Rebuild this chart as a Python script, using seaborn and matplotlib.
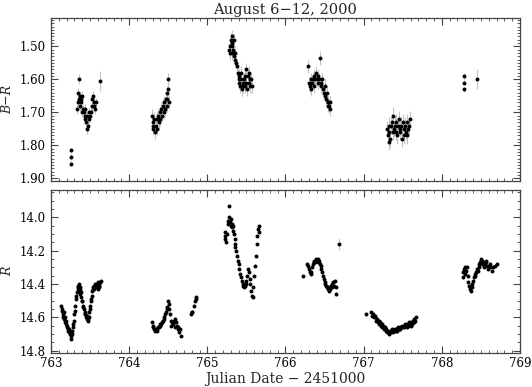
import numpy as np
import pandas as pd
import seaborn as sns
import matplotlib.pyplot as plt
from matplotlib.ticker import MultipleLocator

# ---- B-R colour index, one list of (JD-2451000, B-R) per night ----
br_night1 = [(763.25, 1.815), (763.255, 1.835), (763.26, 1.855)]
br_night1b = [(763.33, 1.69), (763.34, 1.67), (763.35, 1.64), (763.355, 1.60), (763.36, 1.66),
              (763.37, 1.65), (763.37, 1.68), (763.38, 1.66), (763.39, 1.67), (763.40, 1.65),
              (763.40, 1.70), (763.41, 1.69), (763.42, 1.70), (763.43, 1.71), (763.44, 1.72),
              (763.44, 1.69), (763.45, 1.73), (763.46, 1.75), (763.46, 1.71), (763.47, 1.74),
              (763.48, 1.70), (763.49, 1.72), (763.50, 1.71), (763.51, 1.70), (763.52, 1.68),
              (763.53, 1.66), (763.54, 1.65), (763.545, 1.67), (763.55, 1.68), (763.56, 1.69),
              (763.57, 1.67)]
br_night2 = [(764.29, 1.71), (764.30, 1.74), (764.31, 1.73), (764.31, 1.75), (764.32, 1.72),
             (764.33, 1.76), (764.34, 1.74), (764.35, 1.72), (764.36, 1.75), (764.37, 1.71),
             (764.38, 1.73), (764.39, 1.70), (764.40, 1.72), (764.41, 1.69), (764.42, 1.71),
             (764.43, 1.68), (764.44, 1.70), (764.45, 1.67), (764.46, 1.69), (764.47, 1.66),
             (764.48, 1.68), (764.49, 1.64), (764.49, 1.66), (764.50, 1.63), (764.50, 1.60),
             (764.51, 1.67)]
br_night3 = [(765.28, 1.51), (765.29, 1.52), (765.29, 1.50), (765.30, 1.48), (765.31, 1.47),
             (765.31, 1.50), (765.32, 1.49), (765.32, 1.52), (765.33, 1.51), (765.34, 1.48),
             (765.34, 1.53), (765.35, 1.52), (765.36, 1.54), (765.37, 1.55), (765.38, 1.56),
             (765.39, 1.58), (765.40, 1.59), (765.40, 1.61), (765.41, 1.60), (765.42, 1.62),
             (765.43, 1.60), (765.43, 1.58), (765.44, 1.63), (765.45, 1.61), (765.46, 1.62),
             (765.47, 1.60), (765.48, 1.59), (765.48, 1.62), (765.49, 1.57), (765.50, 1.61),
             (765.51, 1.63), (765.52, 1.59), (765.53, 1.58), (765.53, 1.61), (765.54, 1.60),
             (765.55, 1.62), (765.56, 1.60), (765.57, 1.62)]
br_night4 = [(766.29, 1.56), (766.30, 1.61), (766.31, 1.62), (766.32, 1.60), (766.33, 1.63),
             (766.34, 1.61), (766.35, 1.60), (766.36, 1.62), (766.37, 1.59), (766.38, 1.60),
             (766.39, 1.58), (766.40, 1.60), (766.41, 1.59), (766.42, 1.61), (766.43, 1.60),
             (766.44, 1.535), (766.45, 1.61), (766.46, 1.62), (766.47, 1.60), (766.48, 1.63),
             (766.49, 1.64), (766.50, 1.62), (766.51, 1.65), (766.52, 1.66), (766.53, 1.64),
             (766.54, 1.67), (766.55, 1.68), (766.55, 1.67), (766.56, 1.68), (766.57, 1.67),
             (766.57, 1.69)]
br_night5 = [(767.30, 1.75), (767.31, 1.77), (767.32, 1.74), (767.32, 1.79), (767.33, 1.76),
             (767.34, 1.78), (767.35, 1.74), (767.36, 1.73), (767.37, 1.76), (767.38, 1.71),
             (767.39, 1.75), (767.40, 1.74), (767.41, 1.76), (767.42, 1.73), (767.43, 1.77),
             (767.44, 1.74), (767.45, 1.72), (767.46, 1.75), (767.47, 1.76), (767.48, 1.74),
             (767.49, 1.78), (767.50, 1.73), (767.51, 1.75), (767.52, 1.77), (767.53, 1.74),
             (767.54, 1.76), (767.55, 1.73), (767.56, 1.77), (767.57, 1.75), (767.58, 1.74),
             (767.59, 1.72)]
br_night6 = [(768.28, 1.59), (768.285, 1.61), (768.28, 1.63)]
br_single = [(763.63, 1.605), (768.45, 1.60)]

br_nights = [br_night1, br_night1b, br_night2, br_night3, br_night4, br_night5, br_night6, br_single]
br_errs = [0.008, 0.015, 0.02, 0.02, 0.02, 0.025, 0.008, 0.03]

# ---- R magnitude ----
r_night1 = [(763.13, 14.53), (763.14, 14.56), (763.15, 14.58), (763.16, 14.57), (763.17, 14.61),
            (763.18, 14.63), (763.19, 14.62), (763.20, 14.66), (763.21, 14.65), (763.22, 14.68),
            (763.23, 14.67), (763.24, 14.70), (763.25, 14.69), (763.26, 14.73), (763.27, 14.68),
            (763.28, 14.66), (763.29, 14.62), (763.30, 14.58), (763.31, 14.53), (763.32, 14.49),
            (763.33, 14.45), (763.34, 14.43), (763.35, 14.41), (763.36, 14.40), (763.37, 14.43),
            (763.38, 14.45), (763.39, 14.48), (763.40, 14.50), (763.41, 14.53), (763.42, 14.55),
            (763.43, 14.57), (763.44, 14.58), (763.45, 14.60), (763.46, 14.61), (763.47, 14.62),
            (763.48, 14.60), (763.49, 14.57), (763.50, 14.53), (763.51, 14.50), (763.52, 14.47),
            (763.53, 14.44), (763.54, 14.42), (763.55, 14.41), (763.56, 14.40), (763.57, 14.42),
            (763.58, 14.40), (763.59, 14.41), (763.60, 14.43), (763.61, 14.40), (763.62, 14.42),
            (763.63, 14.39), (763.64, 14.38),
            (763.135, 14.55), (763.155, 14.60), (763.175, 14.60), (763.195, 14.64), (763.215, 14.67),
            (763.235, 14.69), (763.255, 14.71), (763.265, 14.70), (763.285, 14.64), (763.305, 14.56),
            (763.325, 14.47), (763.345, 14.42), (763.355, 14.44), (763.365, 14.42), (763.375, 14.46),
            (763.395, 14.50), (763.415, 14.54), (763.435, 14.58), (763.455, 14.59), (763.475, 14.61),
            (763.495, 14.55), (763.515, 14.49), (763.535, 14.43), (763.555, 14.43), (763.575, 14.41),
            (763.595, 14.39), (763.615, 14.41)]
r_night2 = [(764.29, 14.63), (764.30, 14.65), (764.31, 14.66), (764.32, 14.67), (764.33, 14.68),
            (764.34, 14.67), (764.35, 14.68), (764.36, 14.67), (764.37, 14.66), (764.38, 14.66),
            (764.39, 14.65), (764.40, 14.64), (764.41, 14.64), (764.42, 14.63), (764.43, 14.62),
            (764.44, 14.61), (764.45, 14.60), (764.46, 14.58), (764.47, 14.57), (764.48, 14.55),
            (764.49, 14.54), (764.50, 14.50), (764.505, 14.52), (764.51, 14.55), (764.52, 14.58),
            (764.53, 14.62), (764.54, 14.65), (764.55, 14.63), (764.56, 14.64), (764.57, 14.62),
            (764.58, 14.66), (764.59, 14.61), (764.60, 14.63), (764.61, 14.65), (764.62, 14.67),
            (764.63, 14.66), (764.64, 14.69), (764.65, 14.67), (764.66, 14.71),
            (764.795, 14.58), (764.80, 14.57), (764.81, 14.57), (764.83, 14.53), (764.84, 14.50),
            (764.85, 14.48), (764.86, 14.49)]
r_night3 = [(765.22, 14.09), (765.22, 14.13), (765.23, 14.11), (765.24, 14.15), (765.25, 14.10),
            (765.26, 14.04), (765.27, 14.02), (765.28, 13.93), (765.28, 14.00), (765.29, 14.03),
            (765.30, 14.05), (765.30, 14.01), (765.31, 14.06), (765.32, 14.04), (765.33, 14.08),
            (765.33, 14.05), (765.34, 14.10), (765.35, 14.13), (765.35, 14.16), (765.36, 14.18),
            (765.37, 14.20), (765.38, 14.23), (765.39, 14.26), (765.40, 14.28), (765.41, 14.31),
            (765.42, 14.34), (765.43, 14.36), (765.44, 14.38), (765.45, 14.40), (765.46, 14.41),
            (765.47, 14.42), (765.48, 14.41), (765.49, 14.40), (765.50, 14.38), (765.51, 14.35),
            (765.52, 14.31), (765.53, 14.33), (765.54, 14.37), (765.55, 14.40), (765.56, 14.44),
            (765.57, 14.47), (765.58, 14.48), (765.59, 14.42), (765.60, 14.35), (765.61, 14.29),
            (765.62, 14.23), (765.63, 14.16), (765.64, 14.11), (765.65, 14.07), (765.66, 14.05),
            (765.66, 14.09)]
r_night4 = [(766.22, 14.35), (766.28, 14.28), (766.29, 14.29), (766.30, 14.31), (766.31, 14.33),
            (766.32, 14.34), (766.33, 14.33), (766.34, 14.30), (766.35, 14.28), (766.36, 14.27),
            (766.37, 14.26), (766.38, 14.27), (766.39, 14.25), (766.40, 14.26), (766.41, 14.27),
            (766.42, 14.25), (766.43, 14.26), (766.44, 14.28), (766.45, 14.29), (766.46, 14.31),
            (766.47, 14.33), (766.48, 14.35), (766.49, 14.37), (766.50, 14.39), (766.51, 14.40),
            (766.52, 14.41), (766.53, 14.42), (766.54, 14.43), (766.55, 14.42), (766.56, 14.44),
            (766.57, 14.43), (766.58, 14.41), (766.59, 14.42), (766.60, 14.40), (766.61, 14.39),
            (766.62, 14.41), (766.63, 14.38), (766.64, 14.42), (766.65, 14.46)]
r_night5 = [(767.03, 14.58), (767.10, 14.57), (767.11, 14.59), (767.12, 14.58), (767.13, 14.60),
            (767.14, 14.59), (767.15, 14.60), (767.16, 14.62), (767.17, 14.61), (767.18, 14.63),
            (767.19, 14.62), (767.20, 14.64), (767.21, 14.63), (767.22, 14.65), (767.23, 14.64),
            (767.24, 14.66), (767.25, 14.65), (767.26, 14.67), (767.27, 14.66), (767.28, 14.68),
            (767.29, 14.67), (767.30, 14.69), (767.31, 14.68), (767.32, 14.69), (767.33, 14.70),
            (767.34, 14.68), (767.35, 14.69), (767.36, 14.67), (767.37, 14.68), (767.38, 14.69),
            (767.39, 14.68), (767.40, 14.67), (767.41, 14.68), (767.42, 14.67), (767.43, 14.68),
            (767.44, 14.66), (767.45, 14.67), (767.46, 14.66), (767.47, 14.67), (767.48, 14.66),
            (767.49, 14.65), (767.50, 14.66), (767.51, 14.65), (767.52, 14.66), (767.53, 14.64),
            (767.54, 14.65), (767.55, 14.66), (767.56, 14.64), (767.57, 14.65), (767.58, 14.63),
            (767.59, 14.64), (767.60, 14.65), (767.61, 14.63), (767.62, 14.64), (767.63, 14.62),
            (767.64, 14.63), (767.65, 14.61), (767.66, 14.62), (767.67, 14.60)]
r_night6 = [(768.27, 14.33), (768.27, 14.36), (768.28, 14.31), (768.29, 14.34), (768.30, 14.30),
            (768.31, 14.32), (768.32, 14.30), (768.33, 14.35), (768.34, 14.39), (768.35, 14.41),
            (768.36, 14.43), (768.37, 14.44), (768.38, 14.42), (768.39, 14.40), (768.40, 14.38),
            (768.41, 14.36), (768.42, 14.34), (768.43, 14.35), (768.44, 14.33), (768.45, 14.31),
            (768.46, 14.32), (768.47, 14.30), (768.48, 14.28), (768.49, 14.27), (768.50, 14.25),
            (768.51, 14.26), (768.52, 14.28), (768.53, 14.27), (768.54, 14.30), (768.55, 14.28),
            (768.56, 14.26), (768.57, 14.27), (768.58, 14.29), (768.59, 14.31), (768.60, 14.29),
            (768.61, 14.30), (768.62, 14.28), (768.64, 14.32), (768.66, 14.30), (768.68, 14.29),
            (768.70, 14.28)]
r_single = [(766.68, 14.16)]

r_nights = [r_night1, r_night2, r_night3, r_night4, r_night5, r_night6, r_single]
r_errs = [0.008, 0.01, 0.008, 0.012, 0.01, 0.012, 0.035]


def to_frame(nights, errs, col):
    parts = []
    for pts, e in zip(nights, errs):
        d = pd.DataFrame(pts, columns=["jd", col])
        d["err"] = e
        parts.append(d)
    return pd.concat(parts, ignore_index=True)


br_df = to_frame(br_nights, br_errs, "br")
r_df = to_frame(r_nights, r_errs, "r")

sns.set_style("ticks")
plt.rcParams["font.family"] = ["DejaVu Serif"]
plt.rcParams["axes.edgecolor"] = "#444444"
plt.rcParams["axes.linewidth"] = 0.9

fig = plt.figure(figsize=(5.32, 3.87), dpi=100)
ax1 = fig.add_axes([51 / 532, 1 - 181 / 387, 469 / 532, 163 / 387])
ax2 = fig.add_axes([51 / 532, 1 - 353 / 387, 469 / 532, 163 / 387])

for ax, df, col in [(ax1, br_df, "br"), (ax2, r_df, "r")]:
    ax.errorbar(df["jd"], df[col], yerr=df["err"], fmt="none", ecolor="#c4c4c4",
                elinewidth=0.8, capsize=0, zorder=1)
    sns.scatterplot(data=df, x="jd", y=col, ax=ax, color="black", s=8,
                    marker="o", linewidth=0, zorder=2, legend=False)
    ax.set_xlim(763, 769)
    ax.xaxis.set_major_locator(MultipleLocator(1))
    ax.xaxis.set_minor_locator(MultipleLocator(0.1))
    ax.tick_params(which="both", direction="in", top=True, right=True,
                   colors="#444444", labelcolor="black", labelsize=8.5)
    ax.tick_params(which="major", length=5, width=0.8)
    ax.tick_params(which="minor", length=2.5, width=0.6)
    ax.tick_params(axis="y", pad=4)

ax1.set_ylim(1.908, 1.414)
ax1.yaxis.set_major_locator(MultipleLocator(0.1))
ax1.yaxis.set_minor_locator(MultipleLocator(0.01))
ax1.yaxis.set_major_formatter(plt.FormatStrFormatter("%.2f"))
ax1.set_xticklabels([])
ax1.set_xlabel("")
ax1.set_ylabel("B\u2212R", fontstyle="italic", fontsize=9)
ax1.yaxis.set_label_coords(-0.078, 0.5)
ax1.set_title("August 6\u221212, 2000", fontsize=10.5, pad=3)

ax2.set_ylim(14.814, 13.836)
ax2.yaxis.set_major_locator(MultipleLocator(0.2))
ax2.yaxis.set_minor_locator(MultipleLocator(0.05))
ax2.yaxis.set_major_formatter(plt.FormatStrFormatter("%.1f"))
ax2.set_ylabel("R", fontstyle="italic", fontsize=9)
ax2.yaxis.set_label_coords(-0.078, 0.5)
ax2.set_xlabel("Julian Date \u2212 2451000", fontsize=10, labelpad=1)
ax2.tick_params(axis="x", pad=3)

fig.savefig("out.png", dpi=100)
